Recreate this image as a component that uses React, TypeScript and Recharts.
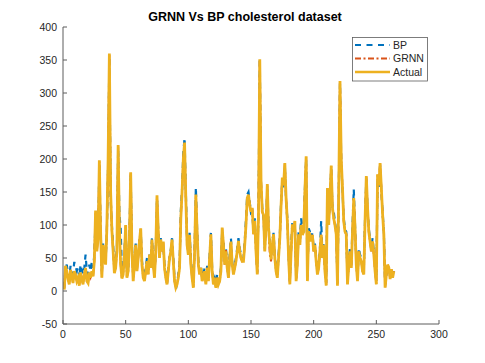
import React from 'react';
import { LineChart, Line, XAxis, YAxis, Customized } from 'recharts';

const actual: number[] = [
  2, 38, 30, 18, 10, 32, 22, 12, 30, 25,
  15, 20, 8, 28, 18, 10, 25, 35, 15, 12,
  28, 20, 30, 22, 45, 122, 60, 80, 198, 90,
  20, 70, 52, 40, 95, 200, 360, 150, 92, 60,
  27, 35, 60, 221, 96, 40, 19, 25, 55, 100,
  20, 30, 80, 180, 60, 15, 40, 70, 30, 50,
  75, 95, 40, 20, 15, 30, 45, 25, 55, 35,
  78, 40, 20, 60, 145, 90, 50, 78, 60, 75,
  35, 20, 10, 30, 50, 60, 78, 45, 15, 5,
  10, 20, 35, 110, 150, 200, 225, 140, 70, 55,
  85, 40, 20, 5, 60, 146, 90, 40, 25, 35,
  15, 20, 30, 10, 35, 15, 50, 86, 30, 10,
  15, 5, 20, 10, 15, 30, 96, 70, 40, 60,
  35, 20, 50, 75, 40, 25, 35, 45, 60, 76,
  60, 50, 45, 45, 70, 100, 141, 146, 130, 120,
  126, 86, 106, 60, 25, 120, 351, 167, 120, 115,
  60, 100, 162, 96, 70, 48, 70, 86, 50, 30,
  20, 50, 80, 130, 172, 160, 194, 140, 106, 50,
  10, 60, 101, 90, 106, 15, 40, 86, 70, 100,
  85, 90, 150, 204, 15, 90, 85, 75, 85, 60,
  70, 45, 25, 35, 60, 85, 50, 70, 30, 8,
  156, 100, 141, 190, 126, 110, 100, 86, 8, 150,
  318, 200, 156, 106, 90, 86, 10, 40, 60, 35,
  90, 141, 96, 40, 15, 60, 50, 45, 30, 25,
  106, 174, 126, 90, 75, 60, 75, 55, 30, 10,
  177, 160, 194, 156, 116, 86, 5, 25, 40, 35,
  18, 33, 20, 30,
];

const bp: number[] = [
  5, 35, 40, 25, 20, 38, 30, 25, 44, 38,
  30, 35, 20, 40, 32, 25, 35, 55, 30, 25,
  40, 30, 45, 35, 55, 110, 70, 85, 190, 95,
  30, 72, 65, 45, 90, 190, 355, 140, 100, 70,
  35, 40, 65, 215, 117, 95, 30, 35, 60, 95,
  30, 35, 85, 175, 70, 25, 45, 72, 40, 55,
  80, 92, 45, 30, 20, 35, 50, 30, 55, 40,
  80, 45, 25, 62, 140, 92, 55, 80, 65, 70,
  40, 25, 12, 35, 52, 62, 80, 50, 20, 2,
  12, 25, 40, 121, 155, 210, 232, 150, 80, 65,
  88, 50, 25, 10, 65, 157, 95, 45, 30, 38,
  22, 25, 35, 15, 38, 20, 55, 88, 35, 15,
  20, 10, 25, 15, 20, 35, 92, 75, 45, 65,
  40, 22, 55, 80, 45, 28, 40, 50, 65, 80,
  65, 55, 50, 50, 75, 110, 146, 150, 135, 118,
  120, 90, 110, 65, 28, 130, 353, 160, 126, 110,
  65, 105, 155, 100, 72, 55, 75, 88, 55, 35,
  25, 55, 85, 135, 168, 155, 190, 135, 110, 55,
  15, 65, 105, 95, 100, 20, 45, 90, 80, 110,
  90, 95, 155, 200, 20, 95, 90, 80, 88, 65,
  72, 50, 30, 40, 65, 106, 55, 72, 35, 12,
  150, 105, 140, 185, 126, 120, 105, 90, 12, 145,
  315, 195, 150, 110, 95, 90, 15, 45, 65, 40,
  100, 154, 100, 45, 20, 65, 55, 50, 35, 30,
  110, 170, 125, 95, 78, 65, 80, 60, 35, 15,
  170, 158, 190, 150, 120, 90, 10, 25, 35, 30,
  25, 28, 25, 30,
];

const grnn: number[] = [
  4, 36, 30, 19, 12, 31, 23, 13, 29, 25,
  16, 21, 10, 27, 19, 11, 25, 34, 16, 13,
  27, 21, 30, 23, 46, 120, 61, 80, 196, 91,
  21, 69, 52, 41, 94, 198, 358, 150, 92, 61,
  28, 35, 60, 219, 97, 41, 20, 26, 55, 99,
  21, 30, 80, 178, 61, 16, 40, 69, 31, 50,
  75, 94, 41, 21, 16, 30, 45, 26, 54, 35,
  77, 41, 21, 60, 144, 90, 51, 77, 60, 74,
  35, 21, 11, 30, 50, 60, 77, 45, 16, 6,
  11, 21, 35, 111, 150, 199, 224, 140, 70, 56,
  84, 41, 21, 6, 60, 145, 90, 40, 26, 35,
  16, 21, 30, 11, 35, 16, 50, 85, 30, 11,
  16, 6, 20, 11, 15, 30, 95, 70, 40, 62,
  35, 21, 50, 74, 40, 26, 35, 45, 60, 75,
  60, 50, 45, 46, 70, 100, 140, 145, 130, 120,
  125, 86, 105, 60, 26, 120, 350, 166, 120, 115,
  61, 100, 160, 96, 55, 45, 70, 85, 50, 30,
  21, 50, 80, 130, 171, 160, 193, 140, 105, 50,
  11, 60, 100, 90, 105, 16, 40, 85, 70, 100,
  85, 90, 150, 203, 16, 90, 85, 75, 85, 60,
  70, 45, 26, 35, 60, 85, 50, 70, 30, 9,
  155, 100, 140, 189, 126, 110, 100, 86, 9, 150,
  317, 200, 155, 106, 90, 86, 11, 40, 60, 35,
  90, 140, 96, 40, 16, 60, 50, 45, 30, 26,
  105, 173, 126, 90, 75, 60, 75, 55, 30, 11,
  176, 160, 193, 155, 116, 86, 6, 25, 40, 35,
  19, 33, 21, 30,
];

const xTicks = [0, 50, 100, 150, 200, 250, 300];
const yTicks = [-50, 0, 50, 100, 150, 200, 250, 300, 350, 400];
const titleText = 'GRNN Vs BP cholesterol dataset';
const seriesNames = ['BP', 'GRNN', 'Actual'];

const data = actual.map((v, i) => ({ x: i + 1, actual: v, bp: bp[i], grnn: grnn[i] }));

const FONT = '"Liberation Sans", Arial, Helvetica, sans-serif';
const AX = '#262626';
const AXLINE = '#5c5c5c';
const C_BP = '#0072BD';
const C_GRNN = '#D95319';
const C_ACT = '#EDB120';

const Overlay = () => (
  <g fontFamily={FONT}>
    <text x={245} y={21} textAnchor="middle" fontSize={12.5} fontWeight="bold" fill="#000">
      {titleText}
    </text>
    <rect x={352.5} y={37.5} width={75} height={43.5} fill="#fff" stroke={AXLINE} strokeWidth={0.8} />
    <line x1={355} x2={390} y1={45} y2={45} stroke={C_BP} strokeWidth={2} strokeDasharray="6 5.5" />
    <line x1={355} x2={390} y1={58.5} y2={58.5} stroke={C_GRNN} strokeWidth={2} strokeDasharray="6 2.5 2 2.5" />
    <line x1={355} x2={390} y1={72} y2={72} stroke={C_ACT} strokeWidth={2.5} />
    <text x={393} y={48.5} fontSize={10.5} fill={AX}>{seriesNames[0]}</text>
    <text x={393} y={62} fontSize={10.5} fill={AX}>{seriesNames[1]}</text>
    <text x={393} y={75.5} fontSize={10.5} fill={AX}>{seriesNames[2]}</text>
  </g>
);

const tickStyle = { fontSize: 10.5, fill: AX, fontFamily: FONT };
const empty = () => '';

export default function App() {
  return (
    <div style={{ position: 'absolute', left: 0, top: 0, width: 485, height: 363, background: '#fff' }}>
      <LineChart width={485} height={363} data={data} margin={{ top: 27, right: 46, bottom: 0, left: 0 }}>
        <XAxis
          xAxisId="bottom"
          dataKey="x"
          type="number"
          domain={[0, 300]}
          ticks={xTicks}
          allowDataOverflow
          height={39}
          tickSize={-4}
          tickMargin={11}
          tick={tickStyle}
          stroke={AXLINE}
          interval={0}
        />
        <XAxis
          xAxisId="top"
          orientation="top"
          dataKey="x"
          type="number"
          domain={[0, 300]}
          ticks={xTicks}
          allowDataOverflow
          height={0}
          tickSize={-4}
          tickFormatter={empty}
          stroke={AXLINE}
          interval={0}
        />
        <YAxis
          yAxisId="left"
          type="number"
          domain={[-50, 400]}
          ticks={yTicks}
          allowDataOverflow
          width={63}
          tickSize={-4}
          tickMargin={10}
          tick={tickStyle}
          stroke={AXLINE}
          interval={0}
        />
        <YAxis
          yAxisId="right"
          orientation="right"
          type="number"
          domain={[-50, 400]}
          ticks={yTicks}
          allowDataOverflow
          width={0}
          tickSize={-4}
          tickFormatter={empty}
          stroke={AXLINE}
          interval={0}
        />
        <Line xAxisId="bottom" yAxisId="left" dataKey="bp" type="linear" stroke={C_BP} strokeWidth={2.2} strokeDasharray="6 5" dot={false} isAnimationActive={false} />
        <Line xAxisId="bottom" yAxisId="left" dataKey="grnn" type="linear" stroke={C_GRNN} strokeWidth={2} strokeDasharray="6 2.5 2 2.5" dot={false} isAnimationActive={false} />
        <Line xAxisId="bottom" yAxisId="left" dataKey="actual" type="linear" stroke={C_ACT} strokeWidth={2.8} dot={false} isAnimationActive={false} />
        <Customized component={Overlay} />
      </LineChart>
    </div>
  );
}
